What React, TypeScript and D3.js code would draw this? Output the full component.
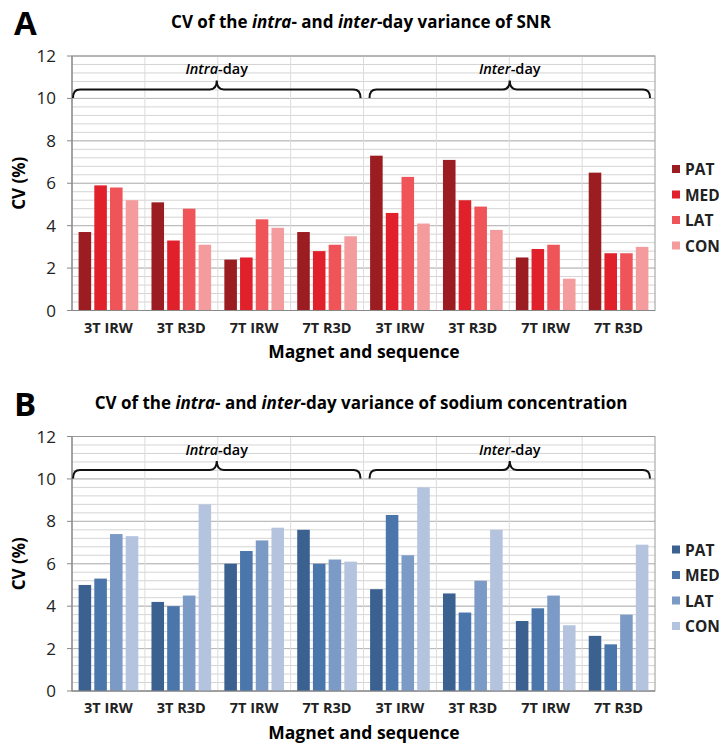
import React from 'react';
import * as d3 from 'd3';

// categories and series
const categories = ['3T IRW', '3T R3D', '7T IRW', '7T R3D', '3T IRW ', '3T R3D ', '7T IRW ', '7T R3D '];
const series = ['PAT', 'MED', 'LAT', 'CON'];
const yTicks = [0, 2, 4, 6, 8, 10, 12];

// CV (%) of SNR, one array per series (intra-day x4, then inter-day x4)
const snrPAT = [3.7, 5.1, 2.4, 3.7, 7.3, 7.1, 2.5, 6.5];
const snrMED = [5.9, 3.3, 2.5, 2.8, 4.6, 5.2, 2.9, 2.7];
const snrLAT = [5.8, 4.8, 4.3, 3.1, 6.3, 4.9, 3.1, 2.7];
const snrCON = [5.2, 3.1, 3.9, 3.5, 4.1, 3.8, 1.5, 3.0];

// CV (%) of sodium concentration
const naPAT = [5.0, 4.2, 6.0, 7.6, 4.8, 4.6, 3.3, 2.6];
const naMED = [5.3, 4.0, 6.6, 6.0, 8.3, 3.7, 3.9, 2.2];
const naLAT = [7.4, 4.5, 7.1, 6.2, 6.4, 5.2, 4.5, 3.6];
const naCON = [7.3, 8.8, 7.7, 6.1, 9.6, 7.6, 3.1, 6.9];

const redColors = ['#9b1c21', '#e0212b', '#ef5558', '#f49b9d'];
const blueColors = ['#3a6190', '#4a76ac', '#7b9bc6', '#b4c3de'];

const font = '"Open Sans", sans-serif';

//curly brace between two x positions
const bracePath = (x0: number, x1: number, yEnd: number, yMid: number, yTop: number) => {
    const xm = (x0 + x1) / 2;
    const r = 7;
    return `M${x0},${yEnd} Q${x0},${yMid} ${x0 + r},${yMid} L${xm - r},${yMid} Q${xm},${yMid} ${xm},${yTop} Q${xm},${yMid} ${xm + r},${yMid} L${x1 - r},${yMid} Q${x1},${yMid} ${x1},${yEnd}`;
};

type PanelProps = {
    letter: string;
    subject: string;
    data: number[][];
    colors: string[];
    top: number;
};

const Panel = ({ letter, subject, data, colors, top }: PanelProps) => {
    const left = 72, right = 655;
    const plotTop = top + 56, plotBottom = top + 310.5;

    const x = d3.scaleBand().domain(categories).range([left, right]);
    const xInner = d3.scaleBand().domain(series).range([0, x.bandwidth()]).paddingInner(0.2).paddingOuter(0.42);
    const y = d3.scaleLinear().domain([0, 12]).range([plotBottom, plotTop]);

    const minor = d3.range(0, 12.01, 0.4);

    const intraStart = x(categories[0])! + 1;
    const intraEnd = x(categories[4])! - 3;
    const interStart = x(categories[4])! + 6;
    const interEnd = right - 5;

    return (
        <g>
            <text x={14} y={top + 35} fontFamily={font} fontWeight={700} fontSize={33}>{letter}</text>
            <text x={361} y={top + 28} textAnchor="middle" fontFamily={font} fontWeight={700} fontSize={17}>
                CV of the <tspan fontStyle="italic">intra</tspan>- and <tspan fontStyle="italic">inter</tspan>-day variance of {subject}
            </text>

            {/* gridlines */}
            {minor.map((v, i) => (
                <line key={'m' + i} x1={left} x2={right} y1={y(v)} y2={y(v)} stroke="#d4d4d4" strokeWidth={1} />
            ))}
            {yTicks.map(v => (
                <line key={'g' + v} x1={left} x2={right} y1={y(v)} y2={y(v)} stroke="#b8b8b8" strokeWidth={1} />
            ))}
            {categories.map((c, i) => i > 0 && (
                <line key={'v' + i} x1={x(c)!} x2={x(c)!} y1={plotTop} y2={plotBottom} stroke="#dcdcdc" strokeWidth={1} />
            ))}
            <rect x={left} y={plotTop} width={right - left} height={plotBottom - plotTop} fill="none" stroke="#9a9a9a" strokeWidth={1} />

            {/* bars */}
            {categories.map((c, ci) => series.map((s, si) => (
                <rect key={c + s}
                    x={x(c)! + xInner(s)!}
                    y={y(data[si][ci])}
                    width={xInner.bandwidth()}
                    height={y(0) - y(data[si][ci])}
                    fill={colors[si]} />
            )))}

            {/* axes */}
            <line x1={left} x2={left} y1={plotTop} y2={plotBottom} stroke="#888" strokeWidth={1.2} />
            <line x1={left} x2={right} y1={plotBottom} y2={plotBottom} stroke="#888" strokeWidth={1.2} />
            {yTicks.map(v => (
                <g key={'t' + v}>
                    <line x1={left - 5} x2={left} y1={y(v)} y2={y(v)} stroke="#888" />
                    <text x={left - 16} y={y(v) + 6} textAnchor="end" fontFamily={font} fontSize={17} fill="#222">{v}</text>
                </g>
            ))}
            {categories.map(c => (
                <text key={'xl' + c} x={x(c)! + x.bandwidth() / 2} y={plotBottom + 22} textAnchor="middle"
                    fontFamily={font} fontWeight={700} fontSize={14.5} fill="#222">{c.trim()}</text>
            ))}
            <text transform={`translate(25,${(plotTop + plotBottom) / 2}) rotate(-90)`} textAnchor="middle"
                fontFamily={font} fontWeight={700} fontSize={17}>CV (%)</text>
            <text x={364} y={plotBottom + 47.5} textAnchor="middle" fontFamily={font} fontWeight={700} fontSize={17.5}>Magnet and sequence</text>

            {/* braces */}
            <path d={bracePath(intraStart, intraEnd, y(10.02), y(10.42), y(10.84))} fill="none" stroke="#111" strokeWidth={2} />
            <path d={bracePath(interStart, interEnd, y(10.02), y(10.42), y(10.84))} fill="none" stroke="#111" strokeWidth={2} />
            <text x={(intraStart + intraEnd) / 2} y={y(11.15)} textAnchor="middle" fontFamily={font} fontWeight={600} fontSize={14.5}>
                <tspan fontStyle="italic">Intra</tspan>-day
            </text>
            <text x={(interStart + interEnd) / 2} y={y(11.15)} textAnchor="middle" fontFamily={font} fontWeight={600} fontSize={14.5}>
                <tspan fontStyle="italic">Inter</tspan>-day
            </text>

            {/* legend */}
            {series.map((s, i) => (
                <g key={'lg' + s} transform={`translate(672,${top + 165 + i * 25.5})`}>
                    <rect x={0} y={0} width={8} height={8} fill={colors[i]} />
                    <text x={13} y={10} fontFamily={font} fontWeight={700} fontSize={15.5} fill="#222">{s}</text>
                </g>
            ))}
        </g>
    );
};

export default function App() {
    return (
        <svg width={719} height={749} style={{ position: 'absolute', left: 0, top: 0, background: '#fff' }}>
            <Panel letter="A" subject="SNR" data={[snrPAT, snrMED, snrLAT, snrCON]} colors={redColors} top={0} />
            <Panel letter="B" subject="sodium concentration" data={[naPAT, naMED, naLAT, naCON]} colors={blueColors} top={380.5} />
        </svg>
    );
}
